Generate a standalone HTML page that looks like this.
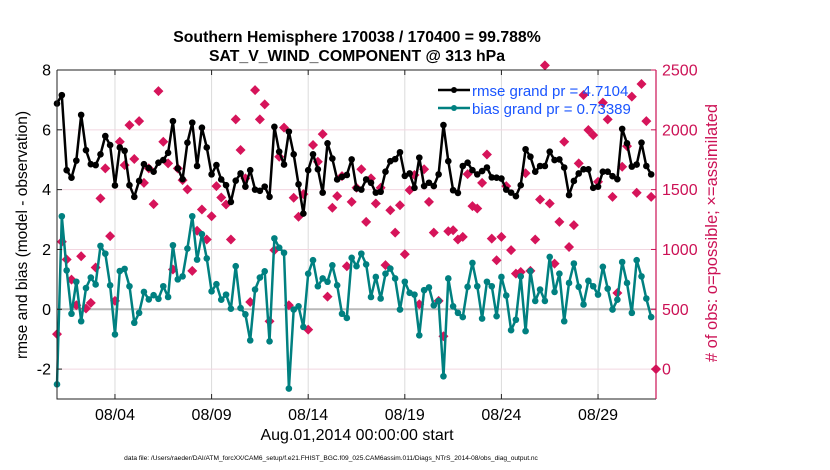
<!DOCTYPE html>
<html><head><meta charset="utf-8"><style>
body{margin:0;background:#fff;}
svg{display:block;font-family:"Liberation Sans",sans-serif;}
</style></head><body>
<svg id="chart" width="830" height="470" viewBox="0 0 830 470">
<text x="357" y="42" text-anchor="middle" font-size="15.8" font-weight="bold">Southern Hemisphere 170038 / 170400 = 99.788%</text>
<text x="357" y="61" text-anchor="middle" font-size="15.8" font-weight="bold">SAT_V_WIND_COMPONENT @ 313 hPa</text>
<g id="grid"></g>
<g id="series"></g>
<g id="axes"></g>
<text transform="translate(27,235) rotate(-90)" text-anchor="middle" font-size="15.5">rmse and bias (model - observation)</text>
<text transform="translate(717,233) rotate(-90)" text-anchor="middle" font-size="16.5" fill="#cc1155"># of obs: o=possible; ×=assimilated</text>
<text x="357" y="440" text-anchor="middle" font-size="16">Aug.01,2014 00:00:00 start</text>
<text x="331" y="460" text-anchor="middle" font-size="6.6">data file: /Users/raeder/DAI/ATM_forcXX/CAM6_setup/f.e21.FHIST_BGC.f09_025.CAM6assim.011/Diags_NTrS_2014-08/obs_diag_output.nc</text>
<g>
<line x1="438" y1="90" x2="470" y2="90" stroke="#000" stroke-width="2.5"/>
<circle cx="454" cy="90" r="3" fill="#000"/>
<text x="472" y="96" font-size="15" fill="#1a55ff">rmse grand pr = 4.7104</text>
<line x1="438" y1="108" x2="470" y2="108" stroke="#008080" stroke-width="2.5"/>
<circle cx="454" cy="108" r="3" fill="#008080"/>
<text x="472" y="114" font-size="15" fill="#1a55ff">bias grand pr = 0.73389</text>
</g>
</svg>
<script>
const rmse=[6.88,7.16,4.65,4.4,4.97,6.5,5.32,4.85,4.82,5.18,5.79,5.49,4.14,5.41,5.3,4.15,3.76,4.29,4.85,4.72,4.6,4.9,4.99,5.23,6.29,4.71,4.35,5.57,6.24,4.79,6.07,5.41,
4.51,4.82,4.34,4.15,3.59,4.3,4.54,4.1,4.65,4.0,3.96,4.1,3.76,6.1,5.27,4.84,5.94,5.18,4.18,3.2,4.65,5.18,4.68,3.9,5.55,5.04,4.34,4.43,4.49,5.01,
4.04,4.0,4.34,4.23,3.9,3.93,4.6,4.95,5.02,5.25,4.46,4.54,4.06,5.07,4.12,4.23,4.12,4.51,6.16,4.95,3.98,3.89,4.79,4.9,4.65,4.51,4.62,4.74,4.41,4.4,4.37,4.0,
3.9,3.78,4.15,5.35,5.1,4.6,4.79,4.79,5.27,4.99,5.01,4.74,3.82,4.29,4.54,4.68,4.68,4.06,4.1,4.6,4.6,4.45,4.35,6.03,5.55,4.77,4.84,5.57,4.79,4.51];
const bias=[-2.51,3.11,1.3,-0.15,0.92,-0.4,0.71,1.06,0.83,2.12,1.86,0.8,-0.84,1.28,1.35,0.77,-0.45,-0.12,0.58,0.33,0.47,0.35,0.77,0.41,2.14,1.0,1.1,2.03,3.11,1.66,2.51,1.7,
0.6,0.84,0.32,0.49,0.02,1.44,0.04,-0.17,-1.04,0.66,1.06,1.27,-1.07,2.37,2.06,1.89,-2.65,-0.01,0.1,-0.59,1.19,1.64,0.77,1.03,0.92,1.47,0.8,-0.15,-0.29,1.72,
1.44,1.86,1.5,0.41,1.08,0.36,1.19,1.36,1.03,-0.01,0.92,0.55,0.49,-0.87,0.64,0.73,0.13,0.28,-2.24,1.03,0.1,-0.12,-0.26,0.75,1.55,0.77,-0.31,0.92,0.77,-0.23,1.08,0.46,
-0.7,-0.35,1.1,-0.73,1.28,0.28,0.66,0.28,1.75,0.58,1.19,-0.4,0.88,1.53,0.75,0.16,0.95,0.77,0.49,1.42,0.69,-0.01,0.32,1.58,0.88,-0.12,1.64,1.1,0.36,-0.26];
const nobs=[292,1064,916,748,534,943,506,553,849,1427,1678,1111,570,1900,1705,2039,1756,2073,1557,1678,1379,2323,1900,1719,832,1678,1580,1502,821,1156,1334,1083,
1278,1529,1434,1376,1083,2087,1831,1594,561,2332,2087,2213,400,994,1775,2018,534,1432,1273,1462,330,1873,1733,1964,606,1349,1446,1613,860,1398,
1516,1670,1231,1594,1384,1516,869,1328,1141,1370,960,1496,1622,542,1670,1398,1141,570,274,1152,1161,1083,1105,1630,1362,1342,1557,1794,1091,910,1105,1529,
994,798,812,1637,821,1083,1418,2539,1384,882,1231,1900,1021,1203,1719,2291,1998,1956,1566,2227,2087,1440,636,1691,1864,2277,1474,2383,2073,1440,0];
const leftTicks=[-2,0,2,4,6,8];
const rightTicks=[0,500,1000,1500,2000,2500];
const dateTicks=[3,8,13,18,23,28];
const dateLabels=["08/04","08/09","08/14","08/19","08/24","08/29"];
const stepDays=0.25;

const X0=57,X1=656,Y0=70,Y1=399;
const xs=d=>X0+(d/31)*(X1-X0);
const yl=v=>Y1-((v+3)/11)*(Y1-Y0);
const yr=n=>yl(n/250-2);
const NS="http://www.w3.org/2000/svg";
function mk(tag,attrs,parent){const e=document.createElementNS(NS,tag);for(const k in attrs)e.setAttribute(k,attrs[k]);parent.appendChild(e);return e;}
const grid=document.getElementById('grid'),ser=document.getElementById('series'),ax=document.getElementById('axes');
dateTicks.forEach(d=>{const l=mk('line',{x1:xs(d),x2:xs(d),y1:Y0,y2:Y1,stroke:'#dcdcdc','stroke-width':1},grid);

});
leftTicks.forEach(v=>{const l=mk('line',{x1:X0,x2:X1,y1:yl(v),y2:yl(v),stroke:'#f2d6e0','stroke-width':1},grid);

});
const z=mk('line',{x1:X0,x2:X1,y1:yl(0),y2:yl(0),stroke:'#b8b8b8','stroke-width':2},grid);


nobs.forEach((n,i)=>{const cx=xs(i*stepDays),cy=yr(n),s=5;
const p=mk('path',{d:`M${cx},${cy-s}L${cx+s},${cy}L${cx},${cy+s}L${cx-s},${cy}Z`,fill:'#d6145a'},ser);

});
function line(arr,col,name){
const pts=arr.map((v,i)=>xs(i*stepDays).toFixed(1)+','+yl(v).toFixed(1)).join(' ');
const pl=mk('polyline',{points:pts,fill:'none',stroke:col,'stroke-width':2.5,'stroke-linejoin':'round'},ser);


arr.forEach((v,i)=>{const c=mk('circle',{cx:xs(i*stepDays),cy:yl(v),r:3.3,fill:col},ser);

});}
line(bias,'#008080','bias');
line(rmse,'#000000','rmse');
const f1=mk('path',{d:`M${X0},${Y0}H${X1}M${X0},${Y0}V${Y1}H${X1}`,fill:'none',stroke:'#222','stroke-width':1},ax);


const f2=mk('line',{x1:X1,x2:X1,y1:Y0,y2:Y1,stroke:'#cc1155','stroke-width':1.2},ax);


leftTicks.forEach(v=>{mk('line',{x1:X0,x2:X0+5,y1:yl(v),y2:yl(v),stroke:'#222'},ax);
const t=mk('text',{x:X0-6,y:yl(v)+5.5,'text-anchor':'end','font-size':16},ax);t.textContent=String(v);

});
rightTicks.forEach(n=>{mk('line',{x1:X1-5,x2:X1,y1:yr(n),y2:yr(n),stroke:'#cc1155'},ax);
const t=mk('text',{x:X1+6,y:yr(n)+5.5,'font-size':16,fill:'#cc1155'},ax);t.textContent=n;

});
dateTicks.forEach((d,i)=>{mk('line',{x1:xs(d),x2:xs(d),y1:Y1,y2:Y1-5,stroke:'#222'},ax);mk('line',{x1:xs(d),x2:xs(d),y1:Y0,y2:Y0+5,stroke:'#222'},ax);
const t=mk('text',{x:xs(d),y:420,'text-anchor':'middle','font-size':16},ax);t.textContent=dateLabels[i];

});
</script>
</body></html>
